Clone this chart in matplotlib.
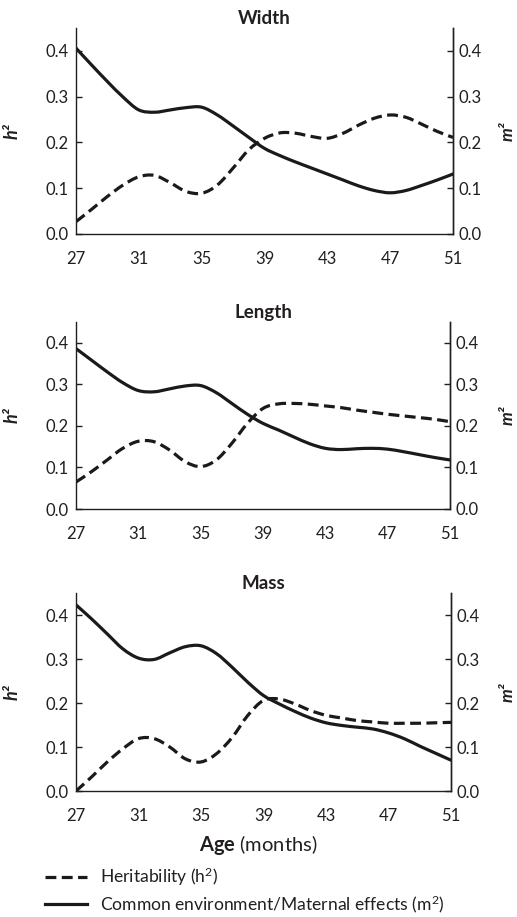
import matplotlib
matplotlib.use("Agg")
import matplotlib.pyplot as plt
from matplotlib.lines import Line2D
from matplotlib.path import Path
from matplotlib.patches import PathPatch

ages = list(range(27, 52))
xticks = [27, 31, 35, 39, 43, 47, 51]
yticks = [0.0, 0.1, 0.2, 0.3, 0.4]
titles = ["Width", "Length", "Mass"]

width_h2 = [0.027, 0.054, 0.082, 0.107, 0.125, 0.128, 0.112, 0.093, 0.089, 0.107, 0.144, 0.184,
            0.209, 0.221, 0.220, 0.213, 0.209, 0.220, 0.238, 0.253, 0.260, 0.255, 0.240, 0.224, 0.211]
width_m2 = [0.406, 0.369, 0.333, 0.299, 0.271, 0.266, 0.271, 0.276, 0.277, 0.260, 0.236, 0.211,
            0.187, 0.171, 0.157, 0.144, 0.131, 0.118, 0.105, 0.095, 0.090, 0.095, 0.106, 0.118, 0.131]
length_h2 = [0.065, 0.090, 0.118, 0.146, 0.163, 0.162, 0.142, 0.114, 0.102, 0.118, 0.158, 0.206,
             0.242, 0.253, 0.254, 0.252, 0.248, 0.244, 0.238, 0.233, 0.228, 0.224, 0.220, 0.216, 0.210]
length_m2 = [0.386, 0.358, 0.330, 0.304, 0.285, 0.282, 0.289, 0.296, 0.297, 0.280, 0.254, 0.228,
             0.206, 0.190, 0.173, 0.157, 0.146, 0.143, 0.145, 0.146, 0.144, 0.138, 0.131, 0.124, 0.118]
mass_h2 = [0.000, 0.032, 0.066, 0.096, 0.119, 0.119, 0.100, 0.073, 0.066, 0.085, 0.122, 0.172,
           0.206, 0.209, 0.198, 0.183, 0.172, 0.166, 0.160, 0.157, 0.154, 0.154, 0.154, 0.155, 0.156]
mass_m2 = [0.423, 0.391, 0.357, 0.323, 0.302, 0.299, 0.314, 0.328, 0.330, 0.312, 0.281, 0.247,
           0.217, 0.198, 0.181, 0.166, 0.155, 0.149, 0.145, 0.141, 0.132, 0.119, 0.102, 0.086, 0.070]

h2_series = [width_h2, length_h2, mass_h2]
m2_series = [width_m2, length_m2, mass_m2]

plt.rcParams['font.family'] = ['Lato', 'DejaVu Sans']
plt.rcParams['mathtext.fontset'] = 'custom'
plt.rcParams['mathtext.rm'] = 'Lato'
plt.rcParams['mathtext.bf'] = 'Lato:bold'
plt.rcParams['mathtext.it'] = 'Lato:italic'

TXT = '#231f20'
LINE = '#1a1a1a'
LW = 2.3
DASH = (3.4, 1.7)
W, H = 517, 917


def smooth_path(xs, ys):
    """Smoothed line through the data points (Catmull-Rom as cubic Bezier segments)."""
    pts = list(zip(xs, ys))
    verts = [pts[0]]
    codes = [Path.MOVETO]
    n = len(pts)
    for i in range(n - 1):
        p0 = pts[i - 1] if i > 0 else pts[i]
        p1 = pts[i]
        p2 = pts[i + 1]
        p3 = pts[i + 2] if i + 2 < n else pts[i + 1]
        c1 = (p1[0] + (p2[0] - p0[0]) / 6, p1[1] + (p2[1] - p0[1]) / 6)
        c2 = (p2[0] - (p3[0] - p1[0]) / 6, p2[1] - (p3[1] - p1[1]) / 6)
        verts += [c1, c2, p2]
        codes += [Path.CURVE4] * 3
    return Path(verts, codes)


fig = plt.figure(figsize=(W / 100, H / 100), dpi=100)

# pixel boxes: left, right, bottom(y of 0.0), top
boxes = [(76, 453, 234, 28), (76, 450, 509, 322), (76, 451, 791, 593)]

for i, (l, r, b, t) in enumerate(boxes):
    ax = fig.add_axes([l / W, 1 - b / H, (r - l) / W, (b - t) / H])
    ax.add_patch(PathPatch(smooth_path(ages, h2_series[i]), fill=False, edgecolor=LINE,
                           lw=LW, linestyle=(0, DASH), capstyle='butt'))
    ax.add_patch(PathPatch(smooth_path(ages, m2_series[i]), fill=False, edgecolor=LINE,
                           lw=LW, capstyle='round'))
    ax.set_xlim(27, 51)
    ax.set_ylim(0, 0.45)
    ax.set_xticks(xticks)
    ax.set_yticks(yticks)
    ax.set_yticklabels([f"{v:.1f}" for v in yticks])
    ax.spines['top'].set_visible(False)
    for s in ['left', 'right', 'bottom']:
        ax.spines[s].set_color(TXT)
        ax.spines[s].set_linewidth(1.0)
    ax.tick_params(axis='y', direction='in', length=4, width=1, colors=TXT,
                   labelsize=12, labelcolor=TXT, pad=5.5)
    ax.tick_params(axis='x', length=0, labelsize=12, labelcolor=TXT, pad=12)
    ax.set_title(titles[i], fontsize=13.5, fontweight='bold', color=TXT, pad=3)
    ax.set_ylabel('h²', fontsize=13, fontweight='bold', fontstyle='italic', color=TXT)
    ax.yaxis.set_label_coords((21 - l) / (r - l), 0.5)

    ax2 = ax.twinx()
    ax2.set_ylim(0, 0.45)
    ax2.set_yticks(yticks)
    ax2.set_yticklabels([f"{v:.1f}" for v in yticks])
    ax2.spines['top'].set_visible(False)
    ax2.spines['left'].set_visible(False)
    ax2.spines['bottom'].set_visible(False)
    ax2.spines['right'].set_color(TXT)
    ax2.spines['right'].set_linewidth(1.0)
    ax2.tick_params(axis='y', direction='in', length=4, width=1, colors=TXT,
                    labelsize=12, labelcolor=TXT, pad=4)
    ax2.set_ylabel('m²', fontsize=12.5, fontweight='bold', fontstyle='italic', color=TXT,
                   rotation=90)
    ax2.yaxis.set_label_coords((500 - l) / (r - l), 0.5)

fig.text(258 / W, 1 - 845 / H, r'$\mathbf{Age}$ (months)', ha='center', va='center',
         fontsize=14.5, color=TXT)

handles = [Line2D([], [], color=LINE, lw=LW, dashes=DASH),
           Line2D([], [], color=LINE, lw=LW)]
labels = ['Heritability (h$^{2}$)', 'Common environment/Maternal effects (m$^{2}$)']
fig.legend(handles, labels, loc='upper left', bbox_to_anchor=(45 / W, 1 - 866 / H),
           frameon=False, fontsize=12.6, handlelength=2.4, handletextpad=0.75,
           labelspacing=0.28, labelcolor=TXT, borderpad=0, borderaxespad=0)

fig.savefig('out.png', dpi=100)
